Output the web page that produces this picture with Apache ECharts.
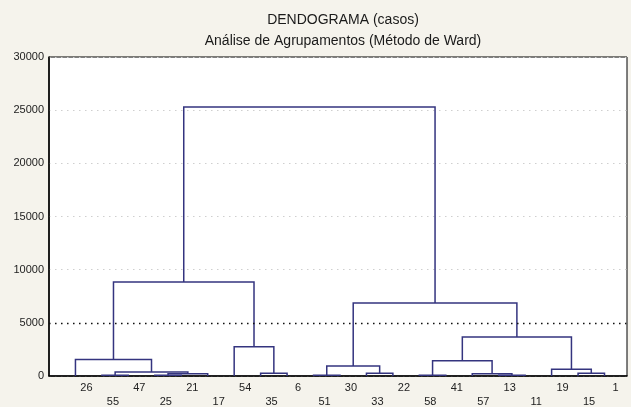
<!DOCTYPE html>
<html><head><meta charset="utf-8">
<script src="https://cdn.jsdelivr.net/npm/echarts@6/dist/echarts.min.js"></script>
<style>html,body{margin:0;padding:0;background:#f5f3ec}#c{width:631px;height:407px}</style>
</head><body><div id="c"></div>
<script>
// ---- data ----
const titleLines = ['DENDOGRAMA (casos)', 'Análise de Agrupamentos (Método de Ward)'];
// leaf labels in dendrogram order
const leafLabels = ['26','55','47','25','21','17','54','35','6','51','30','33','22','58','41','57','13','11','19','15','1'];
// merges: [childA, childB, linkage distance]; ids < 21 are leaves, 21+k is merge k
const merges = [
  [1, 2, 80],      // 21
  [3, 4, 60],      // 22
  [22, 5, 216],    // 23
  [21, 23, 376],   // 24
  [0, 24, 1550],   // 25
  [7, 8, 250],     // 26
  [6, 26, 2750],   // 27
  [25, 27, 8850],  // 28
  [9, 10, 60],     // 29
  [11, 12, 254],   // 30
  [29, 30, 940],   // 31
  [13, 14, 60],    // 32
  [16, 17, 60],    // 33
  [15, 33, 216],   // 34
  [32, 34, 1440],  // 35
  [19, 20, 254],   // 36
  [18, 36, 630],   // 37
  [35, 37, 3670],  // 38
  [31, 38, 6870],  // 39
  [28, 39, 25300]  // 40
];
const cutoff = 5000;
const yMin = 0, yMax = 30000, yStep = 5000;

// ---- layout helpers ----
const leafStart = 2, leafSpacing = 2;
const nLeaf = leafLabels.length;
const nodeX = leafLabels.map((_, i) => leafStart + leafSpacing * i);
const nodeH = leafLabels.map(() => 0);
const links = merges.map(([a, b, h]) => {
  const item = [nodeX[a], nodeH[a], nodeX[b], nodeH[b], h];
  nodeX.push((nodeX[a] + nodeX[b]) / 2);
  nodeH.push(h);
  return item;
});

const chart = echarts.init(document.getElementById('c'), null, {renderer: 'canvas'});
chart.setOption({
  backgroundColor: '#f5f3ec',
  animation: false,
  textStyle: {fontFamily: 'Liberation Sans, Arial, sans-serif'},
  title: {
    text: titleLines.join('\n'),
    left: 338, top: 5, textAlign: 'center',
    textStyle: {fontSize: 14, fontWeight: 'normal', color: '#1a1a1a', lineHeight: 21, fontFamily: 'Liberation Sans, Arial, sans-serif'}
  },
  grid: {left: 49, right: 4, top: 57, bottom: 31, outerBoundsMode: 'none', containLabel: false,
         show: true, backgroundColor: '#ffffff', borderColor: '#000', borderWidth: 1},
  xAxis: {
    type: 'value', min: 0, max: 43.7, interval: leafSpacing,
    axisLine: {show: true, lineStyle: {color: '#000', width: 1.5}},
    axisTick: {show: false},
    splitLine: {show: false},
    axisLabel: {
      margin: 5, fontSize: 11, color: '#222', lineHeight: 14, padding: [0, 0, 0, 22],
      formatter: v => {
        const i = (v - leafStart) / leafSpacing;
        if (Number.isInteger(i) && i >= 0 && i < nLeaf) return (i % 2 ? '\n' : '') + leafLabels[i];
        return '';
      }
    }
  },
  yAxis: {
    type: 'value', min: yMin, max: yMax, interval: yStep,
    axisLine: {show: true, lineStyle: {color: '#000', width: 1.5}},
    axisTick: {show: false},
    axisLabel: {margin: 5, fontSize: 11, color: '#222', formatter: v => String(v)},
    splitLine: {show: true, lineStyle: {color: '#cfcfcf', width: 1, type: [1.5, 4.5]}}
  },
  series: [
    {
      type: 'custom',
      data: links,
      encode: {x: [0, 2], y: [1, 3, 4]},
      renderItem(params, api) {
        const p1 = api.coord([api.value(0), api.value(1)]);
        const p2 = api.coord([api.value(0), api.value(4)]);
        const p3 = api.coord([api.value(2), api.value(4)]);
        const p4 = api.coord([api.value(2), api.value(3)]);
        return {type: 'polyline', shape: {points: [p1, p2, p3, p4]}, style: {stroke: '#34347f', lineWidth: 1.5, fill: 'none'}};
      },
      z: 3
    },
    {
      type: 'line', data: [],
      markLine: {
        silent: true, symbol: 'none', label: {show: false},
        lineStyle: {color: '#111', width: 1.3, type: [1.5, 4.5]},
        data: [{yAxis: cutoff}]
      }
    }
  ]
});
</script></body></html>
